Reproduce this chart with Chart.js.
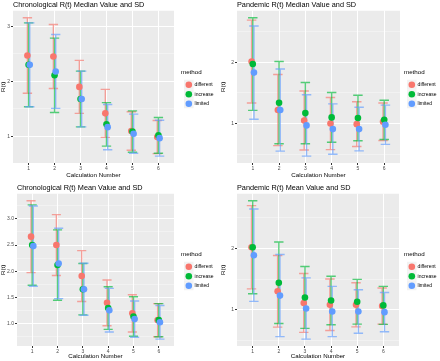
<!DOCTYPE html>
<html>
<head>
<meta charset="utf-8">
<script src="https://cdn.jsdelivr.net/npm/chart.js@4.4.0/dist/chart.umd.min.js"></script>
<style>
  body { margin: 0; background: #fff; }
  .panel { position: absolute; }
</style>
</head>
<body>
<div class="panel" style="left:0;top:0"><canvas id="c1" width="220" height="180"></canvas></div>
<div class="panel" style="left:220px;top:0"><canvas id="c2" width="220" height="180"></canvas></div>
<div class="panel" style="left:0;top:180px"><canvas id="c3" width="220" height="181"></canvas></div>
<div class="panel" style="left:220px;top:180px"><canvas id="c4" width="220" height="181"></canvas></div>
<script>
const calcNumbers = [1, 2, 3, 4, 5, 6];
const methodNames = ['different', 'increase', 'limited'];

// Chronological R(t) median and SD
const chronoMedianDifferent = [2.47, 2.45, 1.90, 1.42, 1.10, 0.99];
const chronoMedianDifferentSD = [0.685, 0.58, 0.48, 0.435, 0.35, 0.30];
const chronoMedianIncrease = [2.30, 2.11, 1.68, 1.22, 1.09, 1.02];
const chronoMedianIncreaseSD = [0.76, 0.675, 0.505, 0.395, 0.375, 0.325];
const chronoMedianLimited = [2.30, 2.18, 1.68, 1.17, 1.05, 0.97];
const chronoMedianLimitedSD = [0.76, 0.67, 0.505, 0.41, 0.355, 0.325];

// Pandemic R(t) median and SD
const pandemicMedianDifferent = [2.01, 1.22, 1.05, 1.00, 0.99, 1.03];
const pandemicMedianDifferentSD = [0.675, 0.58, 0.48, 0.425, 0.365, 0.305];
const pandemicMedianIncrease = [1.97, 1.34, 1.17, 1.10, 1.09, 1.06];
const pandemicMedianIncreaseSD = [0.755, 0.67, 0.50, 0.405, 0.37, 0.32];
const pandemicMedianLimited = [1.83, 1.22, 0.97, 0.91, 0.91, 0.98];
const pandemicMedianLimitedSD = [0.76, 0.67, 0.50, 0.41, 0.355, 0.32];

// Chronological R(t) mean and SD
const chronoMeanDifferent = [2.66, 2.50, 1.91, 1.40, 1.20, 1.07];
const chronoMeanDifferentSD = [0.685, 0.58, 0.485, 0.435, 0.355, 0.315];
const chronoMeanIncrease = [2.50, 2.12, 1.66, 1.30, 1.14, 1.07];
const chronoMeanIncreaseSD = [0.765, 0.67, 0.49, 0.405, 0.375, 0.315];
const chronoMeanLimited = [2.48, 2.15, 1.66, 1.26, 1.09, 1.03];
const chronoMeanLimitedSD = [0.765, 0.67, 0.495, 0.415, 0.345, 0.32];

// Pandemic R(t) mean and SD
const pandemicMeanDifferent = [2.02, 1.30, 1.11, 1.08, 1.08, 1.06];
const pandemicMeanDifferentSD = [0.68, 0.585, 0.48, 0.42, 0.36, 0.295];
const pandemicMeanIncrease = [2.02, 1.44, 1.20, 1.15, 1.13, 1.07];
const pandemicMeanIncreaseSD = [0.76, 0.665, 0.505, 0.395, 0.365, 0.31];
const pandemicMeanLimited = [1.89, 1.23, 1.02, 0.97, 0.97, 0.96];
const pandemicMeanLimitedSD = [0.755, 0.67, 0.50, 0.41, 0.355, 0.32];

// y ticks (major = labelled, minor = grid only)
const yMajorWhole = [1, 2, 3];
const yMinorWhole = [0.5, 1.5, 2.5];
const yMajorHalf = [1.0, 1.5, 2.0, 2.5, 3.0];
const yMinorHalf = [0.75, 1.25, 1.75, 2.25, 2.75, 3.25];

const colors = ['#F8766D', '#00BA38', '#619CFF'];
const barColors = ['rgba(248,118,109,0.65)', 'rgba(0,186,56,0.65)', 'rgba(97,156,255,0.65)'];
const FONT = "'Liberation Sans', Arial, sans-serif";
const dodge = 0.045;   // position_dodge
const capHalf = 0.18;  // errorbar width / 2

const panelBg = {
  id: 'panelBg',
  beforeDraw(chart) {
    const { ctx, chartArea: a } = chart;
    ctx.save();
    ctx.fillStyle = '#EBEBEB';
    ctx.fillRect(a.left, a.top, a.width, a.height);
    // legend key backgrounds
    const lg = chart.legend;
    if (lg && lg.legendHitBoxes) {
      ctx.fillStyle = '#F2F2F2';
      lg.legendHitBoxes.forEach(hb => {
        ctx.fillRect(hb.left - 1.5, hb.top - 2.5, 9.5, 9.5);
      });
    }
    ctx.restore();
  }
};

const errorBars = {
  id: 'errorBars',
  beforeDatasetsDraw(chart) {
    const { ctx, chartArea: a, scales: { x, y } } = chart;
    ctx.save();
    ctx.beginPath();
    ctx.rect(a.left, a.top, a.width, a.height);
    ctx.clip();
    ctx.lineWidth = 1.4;
    chart.data.datasets.forEach(ds => {
      ctx.strokeStyle = ds.barColor;
      ds.data.forEach((p, i) => {
        const hi = y.getPixelForValue(p.y + ds.sd[i]);
        const lo = y.getPixelForValue(p.y - ds.sd[i]);
        const cx = x.getPixelForValue(p.x);
        const l = x.getPixelForValue(p.x - capHalf);
        const r = x.getPixelForValue(p.x + capHalf);
        ctx.beginPath();
        ctx.moveTo(cx, hi); ctx.lineTo(cx, lo);
        ctx.moveTo(l, hi); ctx.lineTo(r, hi);
        ctx.moveTo(l, lo); ctx.lineTo(r, lo);
        ctx.stroke();
      });
    });
    ctx.restore();
  }
};

function makePanel(cfg) {
  const datasets = cfg.values.map((vals, m) => ({
    label: methodNames[m],
    data: vals.map((v, i) => ({ x: calcNumbers[i] + (m - 1) * dodge, y: v })),
    sd: cfg.sds[m],
    barColor: barColors[m],
    backgroundColor: colors[m],
    borderColor: colors[m],
    pointRadius: 3.3,
    pointHoverRadius: 3.3,
    borderWidth: 0,
    order: 2 - m
  }));
  // axis range with 5% expansion like ggplot
  let lo = Infinity, hi = -Infinity;
  cfg.values.forEach((vals, m) => vals.forEach((v, i) => {
    lo = Math.min(lo, v - cfg.sds[m][i]);
    hi = Math.max(hi, v + cfg.sds[m][i]);
  }));
  const pad = (hi - lo) * 0.05;
  const yMin = lo - pad, yMax = hi + pad;
  const allTicks = cfg.majors.concat(cfg.minors).filter(v => v >= yMin && v <= yMax).sort((a, b) => a - b);
  const isMajor = v => cfg.majors.some(m => Math.abs(m - v) < 1e-9);

  new Chart(document.getElementById(cfg.id), {
    type: 'scatter',
    data: { datasets },
    options: {
      responsive: false,
      animation: false,
      events: [],
      layout: { padding: { top: cfg.padTop, right: cfg.padRight, left: 0, bottom: 0 } },
      scales: {
        x: {
          type: 'linear',
          min: 0.4, max: 6.6,
          afterBuildTicks: s => { s.ticks = calcNumbers.map(v => ({ value: v })); },
          afterFit: s => { s.height = cfg.xHeight; },
          grid: { color: '#fff', lineWidth: 1, tickLength: 2, tickColor: '#333' },
          border: { display: false },
          ticks: { color: '#4D4D4D', font: { family: FONT, size: 5 }, padding: 1, maxRotation: 0 },
          title: { display: true, text: 'Calculation Number', color: '#000', font: { family: FONT, size: 6.2 }, padding: { top: 0, bottom: 1 } }
        },
        y: {
          type: 'linear',
          min: yMin, max: yMax,
          afterBuildTicks: s => { s.ticks = allTicks.map(v => ({ value: v })); },
          afterFit: s => { s.width = cfg.yWidth; },
          grid: {
            color: c => isMajor(c.tick.value) ? '#fff' : 'rgba(255,255,255,0.75)',
            lineWidth: c => isMajor(c.tick.value) ? 1 : 0.5,
            tickLength: 2,
            tickColor: c => isMajor(c.tick.value) ? '#333' : 'rgba(0,0,0,0)'
          },
          border: { display: false },
          ticks: {
            color: '#4D4D4D', font: { family: FONT, size: 5 }, padding: 1, autoSkip: false,
            callback: v => isMajor(v) ? v.toFixed(cfg.decimals) : ''
          },
          title: { display: true, text: 'R(t)', color: '#000', font: { family: FONT, size: 6.2 }, padding: { top: 0, bottom: 0 } }
        },
        gap: {
          type: 'linear', position: 'right', display: true,
          afterFit: s => { s.width = cfg.gap; },
          grid: { display: false }, border: { display: false }, ticks: { display: false }
        }
      },
      plugins: {
        title: {
          display: true, text: cfg.title, align: 'start', fullSize: false,
          color: '#000', font: { family: FONT, size: 7.3, weight: 'normal' },
          padding: { top: 1, bottom: 1 }
        },
        legend: {
          display: true, position: 'right', align: 'center', maxWidth: cfg.legendWidth,
          title: { display: true, text: 'method', position: 'start', color: '#000', font: { family: FONT, size: 6.2 }, padding: { top: 0, bottom: 1 } },
          labels: {
            usePointStyle: true, pointStyle: 'circle', pointStyleWidth: 6.6, boxHeight: 4.6,
            color: '#000', font: { family: FONT, size: 5 }, padding: 4.5,
            sort: (a, b) => a.datasetIndex - b.datasetIndex
          }
        },
        tooltip: { enabled: false }
      }
    },
    plugins: [panelBg, errorBars]
  });
}

makePanel({
  id: 'c1', title: 'Chronological R(t) Median Value and SD',
  values: [chronoMedianDifferent, chronoMedianIncrease, chronoMedianLimited],
  sds: [chronoMedianDifferentSD, chronoMedianIncreaseSD, chronoMedianLimitedSD],
  majors: yMajorWhole, minors: yMinorWhole, decimals: 0,
  yWidth: 13, gap: 7, legendWidth: 36, padRight: 3, padTop: 0, xHeight: 17
});
makePanel({
  id: 'c2', title: 'Pandemic R(t) Median Value and SD',
  values: [pandemicMedianDifferent, pandemicMedianIncrease, pandemicMedianLimited],
  sds: [pandemicMedianDifferentSD, pandemicMedianIncreaseSD, pandemicMedianLimitedSD],
  majors: yMajorWhole, minors: yMinorWhole, decimals: 0,
  yWidth: 17, gap: 4, legendWidth: 33, padRight: 3, padTop: 0, xHeight: 17
});
makePanel({
  id: 'c3', title: 'Chronological R(t) Mean Value and SD',
  values: [chronoMeanDifferent, chronoMeanIncrease, chronoMeanLimited],
  sds: [chronoMeanDifferentSD, chronoMeanIncreaseSD, chronoMeanLimitedSD],
  majors: yMajorHalf, minors: yMinorHalf, decimals: 1,
  yWidth: 17, gap: 7, legendWidth: 36, padRight: 3, padTop: 3, xHeight: 15
});
makePanel({
  id: 'c4', title: 'Pandemic R(t) Mean Value and SD',
  values: [pandemicMeanDifferent, pandemicMeanIncrease, pandemicMeanLimited],
  sds: [pandemicMeanDifferentSD, pandemicMeanIncreaseSD, pandemicMeanLimitedSD],
  majors: yMajorWhole, minors: yMinorWhole, decimals: 0,
  yWidth: 17, gap: 5, legendWidth: 33, padRight: 3, padTop: 3, xHeight: 15
});
</script>
</body>
</html>
